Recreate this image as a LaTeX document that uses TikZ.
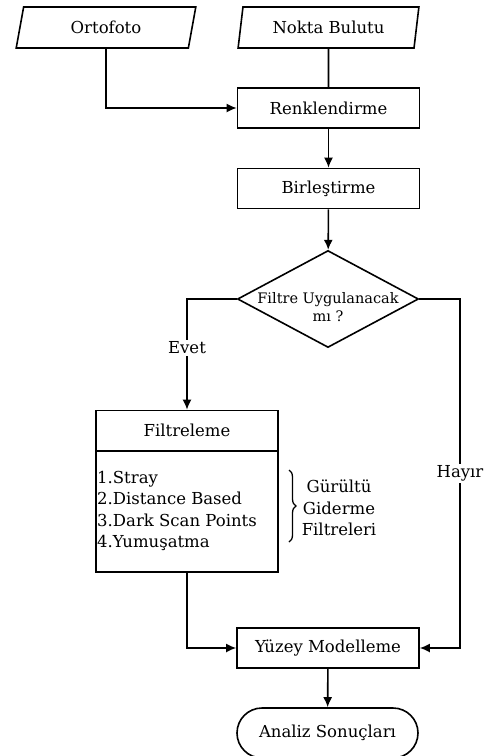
\documentclass[tikz,border=0pt]{standalone}
\usepackage{fontspec}
\setmainfont{DejaVu Serif}
\usetikzlibrary{shapes.geometric,shapes.misc,arrows.meta,decorations.pathreplacing}

\begin{document}
\begin{tikzpicture}
      [%%%%%%%%%%%%%%%%%%%%%%%%%%%%%%
      x=1pt,y=-1pt,
      >={Latex[length=10pt,width=9pt]},
      every node/.style={font=\fontsize{16.5}{21.5}\selectfont},
      line/.style={draw=black,line width=1.6pt},
      veri/.style={trapezium,trapezium left angle=76,trapezium right angle=104,
        trapezium stretches=true,draw=black,line width=1.6pt,
        minimum width=181,minimum height=41,inner sep=0pt},
      box/.style={rectangle,draw=black,line width=1.6pt,
        minimum width=182,minimum height=40,inner sep=0pt},
      karar/.style={diamond,draw=black,line width=1.6pt,
        minimum width=181,minimum height=97,inner sep=0pt},
      son/.style={rounded rectangle,draw=black,line width=1.6pt,
        minimum width=181,minimum height=50,inner sep=0pt},
      etiket/.style={fill=white,inner sep=2pt},
      ]%%%%%%%%%%%%%%%%%%%%%%%%%%%%%%
      \useasboundingbox[fill=white] (0,0) rectangle (486,756);

      \node[veri] (orto)  at (106,27.5) {Ortofoto};
      \node[veri] (nokta) at (328.5,27.5) {Nokta Bulutu};
      \node[box]  (renk)  at (328.5,108) {Renklendirme};
      \node[box]  (birl)  at (328.5,188.5) {Birleştirme};
      \node[karar,label={[align=center,yshift=-8pt,
          font=\fontsize{14.5}{18}\selectfont]center:Filtre Uygulanacak\\mı ?}]
        (filtre) at (328,299) {};
      \node[box]  (filt)  at (187,430.5) {Filtreleme};
      \node[box,minimum height=121] (liste) at (187,511.5) {};
      \node[anchor=west,align=left,inner sep=0pt] (yontem) at (97,511)
        {1.Stray\\2.Distance Based\\3.Dark Scan Points\\4.Yumuşatma};
      \node[box]  (yuzey) at (328,648) {Yüzey Modelleme};
      \node[son]  (analiz) at (327.5,733) {Analiz Sonuçları};

      % baglantilar
      \draw[line,->] (orto.south) |- (renk.west);
      \draw[line] (nokta) -- (renk);
      \draw[line,->] (renk) -- (birl);
      \draw[line,->] (birl) -- (filtre);
      \draw[line,->] (filtre.west) -| node[etiket,pos=0.72] {Evet} (filt.north);
      \draw[line,->] (filtre.east) -| node[etiket,pos=0.75] {Hayır} (yuzey.east -| 460,0) -- (yuzey.east);
      \draw[line,->] (liste.south) |- (yuzey.west);
      \draw[line,->] (yuzey) -- (analiz);

      % gurultu filtreleri
      \draw[line width=1.3pt,decorate,decoration={brace,amplitude=7pt}]
        (289,470) -- coordinate (uc) (289,542);
      \node[align=center,inner sep=0pt] (gurultu) at (339,508)
        {Gürültü\\Giderme\\Filtreleri};
    \end{tikzpicture}
\end{document}
